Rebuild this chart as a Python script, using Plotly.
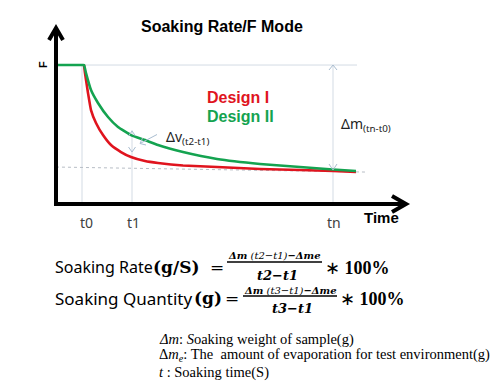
import plotly.graph_objects as go

# ---- data (time in arbitrary units, t0 = 0; F in % of initial F) ----
green_t = [-1.04, 0.0, 0.08, 0.16, 0.36, 0.64, 1.04, 1.44, 1.96, 2.52, 3.04, 4.04, 5.4, 7.12, 8.72, 10.04, 10.96]
green_f = [100, 100, 100, 94.2, 82.0, 72.7, 62.6, 55.4, 49.6, 46.0, 42.4, 37.4, 32.4, 28.8, 26.6, 24.8, 23.7]
red_t = [0.08, 0.12, 0.24, 0.36, 0.56, 0.84, 1.16, 1.56, 1.96, 2.52, 3.04, 4.04, 5.4, 7.12, 8.72, 10.04, 10.96]
red_f = [100, 94.2, 79.9, 67.6, 58.3, 49.6, 42.4, 37.4, 33.8, 30.9, 29.5, 27.7, 26.6, 25.2, 24.5, 23.7, 23.0]
tick_t = [0, 2, 10.04]
tick_labels = ["t0", "t1", "tn"]
f_level = 100
t1_green = 53.2
baseline_t = [-1.04, 11.32]
baseline_f = [26.6, 23.0]
f_line_end = 11.0

W, H = 500, 392
def X(px): return px / W
def Y(py): return 1 - py / H

RED = "#e0141e"
GREEN = "#14a350"
GUIDE = "#d3dbe4"
ARROW = "#a9bdd0"

fig = go.Figure()
fig.add_trace(go.Scatter(x=red_t, y=red_f, mode="lines", line=dict(color=RED, width=2.6, shape="spline", smoothing=0.35), hoverinfo="skip"))
fig.add_trace(go.Scatter(x=green_t, y=green_f, mode="lines", line=dict(color=GREEN, width=2.6, shape="spline", smoothing=0.35), hoverinfo="skip"))

shapes = []
# guide lines (data coordinates)
shapes.append(dict(type="line", xref="x", yref="y", x0=tick_t[0], x1=f_line_end, y0=f_level, y1=f_level, line=dict(color=GUIDE, width=1), layer="below"))
shapes.append(dict(type="line", xref="x", yref="y", x0=tick_t[0], x1=tick_t[0], y0=0, y1=f_level, line=dict(color=GUIDE, width=1), layer="below"))
shapes.append(dict(type="line", xref="x", yref="y", x0=tick_t[1], x1=tick_t[1], y0=0, y1=t1_green, line=dict(color=GUIDE, width=1), layer="below"))
shapes.append(dict(type="line", xref="x", yref="y", x0=tick_t[2], x1=tick_t[2], y0=0, y1=f_level, line=dict(color=GUIDE, width=1), layer="below"))
shapes.append(dict(type="line", xref="x", yref="y", x0=baseline_t[0], x1=baseline_t[1], y0=baseline_f[0], y1=baseline_f[1], line=dict(color="#b8bec6", width=1, dash="dot"), layer="below"))

def chevron(tip, a, b, color, width):
    p = f"M {X(a[0])},{Y(a[1])} L {X(tip[0])},{Y(tip[1])} L {X(b[0])},{Y(b[1])}"
    return dict(type="path", xref="paper", yref="paper", path=p, line=dict(color=color, width=width))

# black axes
shapes.append(dict(type="line", xref="paper", yref="paper", x0=X(56), x1=X(56), y0=Y(206), y1=Y(29), line=dict(color="black", width=4)))
shapes.append(dict(type="line", xref="paper", yref="paper", x0=X(54), x1=X(405), y0=Y(204), y1=Y(204), line=dict(color="black", width=4)))
shapes.append(chevron((56, 28), (49, 40), (63, 40), "black", 4))
shapes.append(chevron((406, 204), (392, 196), (392, 212), "black", 4))
# small arrows
shapes.append(chevron((132, 131), (128.5, 136), (135.5, 136), ARROW, 1))
shapes.append(chevron((132, 152), (128.5, 147), (135.5, 147), ARROW, 1))
shapes.append(chevron((333, 65), (329, 70), (337, 70), ARROW, 1))
shapes.append(chevron((333, 170), (329, 164), (337, 164), ARROW, 1))
shapes.append(dict(type="line", xref="paper", yref="paper", x0=X(157), x1=X(140), y0=Y(134.5), y1=Y(143.5), line=dict(color=ARROW, width=1)))
shapes.append(chevron((140, 143.5), (142.5, 138), (146, 145), ARROW, 1))
# fraction bars
shapes.append(dict(type="line", xref="paper", yref="paper", x0=X(227), x1=X(322), y0=Y(262), y1=Y(262), line=dict(color="black", width=1.3)))
shapes.append(dict(type="line", xref="paper", yref="paper", x0=X(243), x1=X(337), y0=Y(296), y1=Y(296), line=dict(color="black", width=1.3)))

ann = []
def txt(x, y, text, size, color="black", family="Liberation Sans", xanchor="center", angle=0):
    ann.append(dict(xref="paper", yref="paper", x=X(x), y=Y(y), text=text, showarrow=False,
                    xanchor=xanchor, yanchor="middle", textangle=angle,
                    font=dict(size=size, color=color, family=family)))

txt(222, 27, "<b>Soaking Rate/F Mode</b>", 16)
txt(43, 65, "<b>F</b>", 11, angle=-90)
for t, lab, px in zip(tick_t, tick_labels, [86, 133, 334]):
    txt(px, 222, lab, 14, color="#404040", family="Noto Sans")
txt(381, 217, "<b>Time</b>", 15)
txt(205, 97, "<b>Design I</b>", 16, color=RED, xanchor="left")
txt(205, 116, "<b>Design II</b>", 16, color=GREEN, xanchor="left")
txt(164, 137, "Δv<sub>(t2-t1)</sub>", 14, color="#222222", family="Noto Sans", xanchor="left")
txt(339, 124, "Δm<sub>(tn-t0)</sub>", 14, color="#222222", family="Noto Sans", xanchor="left")

# formulas
txt(53, 267, "Soaking Rate", 16, family="Noto Sans", xanchor="left")
txt(151, 267, "<b>(g/S)</b>", 17, family="DejaVu Serif", xanchor="left")
txt(208, 267, "=", 17, family="DejaVu Serif", xanchor="left")
txt(274.5, 256, "<b><i>Δm</i></b> <i>(t2−t1)</i><b><i>−Δme</i></b>", 10, family="DejaVu Serif")
txt(277, 275, "<b><i>t2−t1</i></b>", 13, family="DejaVu Serif")
txt(323, 268, "∗ <b>100%</b>", 18, family="Liberation Serif", xanchor="left")

txt(53, 298, "Soaking Quantity", 17, family="Noto Sans", xanchor="left")
txt(192, 298, "<b>(g)</b>", 17, family="DejaVu Serif", xanchor="left")
txt(223, 298, "=", 17, family="DejaVu Serif", xanchor="left")
txt(290, 290, "<b><i>Δm</i></b> <i>(t3−t1)</i><b><i>−Δme</i></b>", 10, family="DejaVu Serif")
txt(292, 308, "<b><i>t3−t1</i></b>", 13, family="DejaVu Serif")
txt(338, 299, "∗ <b>100%</b>", 18, family="Liberation Serif", xanchor="left")

# legend of symbols
txt(157, 339, "<i>Δm</i>: <i>S</i>oaking weight of sample(g)", 14.5, family="Liberation Serif", xanchor="left")
txt(157, 355, "Δ<i>m<sub>e</sub></i>: The  amount of evaporation for test environment(g)", 14.5, family="Liberation Serif", xanchor="left")
txt(157, 372, "<i>t</i> : Soaking time(S)", 14.5, family="Liberation Serif", xanchor="left")

fig.update_layout(
    width=W, height=H, margin=dict(l=0, r=0, t=0, b=0),
    paper_bgcolor="white", plot_bgcolor="white", showlegend=False,
    shapes=shapes, annotations=ann,
    xaxis=dict(domain=[X(56), X(406)], range=[-1.04, 12.96], visible=False, fixedrange=True),
    yaxis=dict(domain=[Y(204), Y(30)], range=[0, 125.2], visible=False, fixedrange=True),
)
fig.write_html("out.html", config={"displayModeBar": False}, post_script="document.body.style.margin='0';")
